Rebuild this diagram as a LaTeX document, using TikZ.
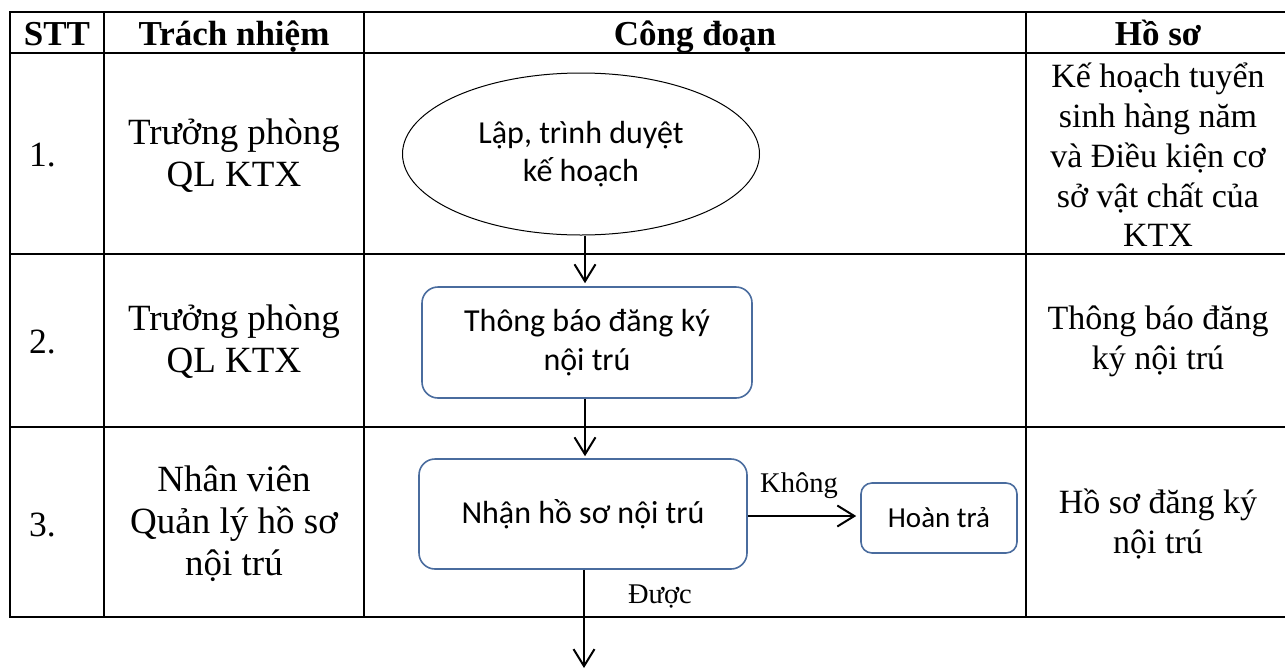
\documentclass[tikz,border=0pt]{standalone}
\usepackage{fontspec}
\setmainfont{Liberation Serif}
\newfontfamily\calib{Carlito}
\usetikzlibrary{arrows.meta,shapes.geometric}
\definecolor{boxblue}{HTML}{4A6C9E}
\begin{document}
\begin{tikzpicture}[x=1pt,y=-1pt,
  tbl/.style={line width=2.8pt},
  hdr/.style={inner sep=0pt,font=\bfseries\fontsize{35}{40}\selectfont,anchor=base},
  cell/.style={align=center,inner sep=0pt,font=\fontsize{37}{42}\selectfont},
  rec/.style={align=center,inner sep=0pt,font=\fontsize{34}{39.7}\selectfont},
  num/.style={inner sep=0pt,font=\fontsize{35.5}{42}\selectfont,anchor=base west},
  ell/.style={ellipse,draw,line width=1pt,minimum width=357pt,minimum height=162pt,inner sep=0pt,align=center,font=\calib\fontsize{32}{38.4}\selectfont},
  box/.style={rounded corners=16pt,draw=boxblue,line width=1.6pt,inner sep=0pt,align=center,font=\calib\fontsize{32}{38.4}\selectfont},
  lbl/.style={inner sep=0pt,font=\fontsize{28.5}{34}\selectfont,anchor=base},
  arr/.style={line width=2pt,-{Straight Barb[length=17pt,width=21pt]}}
]
\useasboundingbox (0,0) rectangle (1285,670);
\clip (0,0) rectangle (1285,670);

% table grid
\draw[tbl] (10,12) rectangle (1290,617);
\foreach \y in {53,254,427} \draw[tbl] (10,\y) -- (1290,\y);
\foreach \x in {104,364,1026} \draw[tbl] (\x,12) -- (\x,617);

% header
\node[hdr] (hstt) at (57,45) {STT};
\node[hdr] (htn) at (234,45) {Trách nhiệm};
\node[hdr] (hcd) at (695,45) {Công đoạn};
\node[hdr] (hhs) at (1158,45) {Hồ sơ};

% row numbers
\node[num] (n1) at (29,166) {1.};
\node[num] (n2) at (29,353) {2.};
\node[num] (n3) at (29,536) {3.};

% responsibility
\node[cell] (r1) at (234,156) {Trưởng phòng\\QL KTX};
\node[cell] (r2) at (234,342) {Trưởng phòng\\QL KTX};
\node[cell] (r3) at (234,524) {Nhân viên\\Quản lý hồ sơ\\nội trú};

% records
\node[rec] (d1) at (1158,155) {Kế hoạch tuyển\\sinh hàng năm\\và Điều kiện cơ\\sở vật chất của\\KTX};
\node[rec] (d2) at (1158,341) {Thông báo đăng\\ký nội trú};
\node[rec] (d3) at (1158,524) {Hồ sơ đăng ký\\nội trú};

% flow
\node[ell] (ell) at (581,154) {Lập, trình duyệt\\kế hoạch};
\node[box,minimum width=330pt,minimum height=111pt] (b2) at (587,342.5) {Thông báo đăng ký\\nội trú};
\node[box,minimum width=328pt,minimum height=110pt] (b3) at (583,514) {Nhận hồ sơ nội trú};
\node[box,rounded corners=11pt,minimum width=156pt,minimum height=70pt,font=\calib\fontsize{29}{35}\selectfont] (hoan) at (939,518) {Hoàn trả};

\coordinate (ax) at (585,0);
\coordinate (ky) at (0,516);
\coordinate (fin) at (584,668);
\draw[arr,shorten >=3pt] (ell.south -| ax) -- (b2.north -| ax);
\draw[arr,shorten >=2pt] (b2.south -| ax) -- (b3.north -| ax);
\draw[arr,shorten >=4pt] (b3.east |- ky) -- (hoan.west |- ky);
\draw[arr] (b3.south -| fin) -- (fin);

\node[lbl] (kh) at (799,492) {Không};
\node[lbl] (dc) at (660,603) {Được};
\end{tikzpicture}
\end{document}
